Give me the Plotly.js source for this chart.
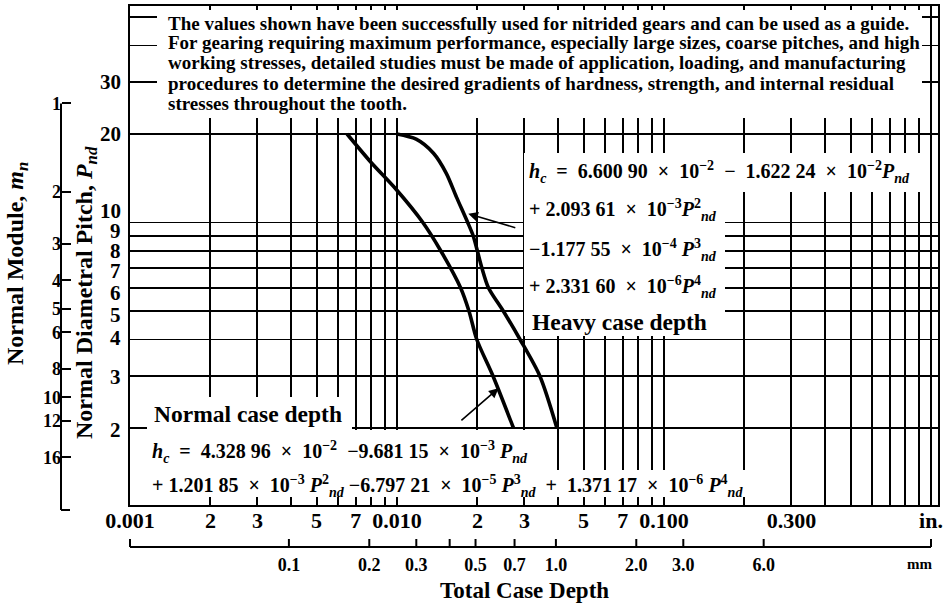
<!DOCTYPE html>
<html>
<head>
<meta charset="utf-8">
<script src="https://cdn.plot.ly/plotly-3.0.1.min.js"></script>
<style>html,body{margin:0;padding:0;background:#fff;}#chart{width:944px;height:605px;}</style>
</head>
<body>
<div id="chart"></div>
<script>
// ---------- data ----------
const depthGrid = [0.001,0.002,0.003,0.004,0.005,0.006,0.007,0.008,0.009,
                   0.01,0.02,0.03,0.04,0.05,0.06,0.07,0.08,0.09,
                   0.1,0.2,0.3,0.4,0.5,0.6,0.7,0.8,0.9,1.0];
const depthLabels = ['0.001','2','3','','5','','7','','',
                     '0.010','2','3','','5','','7','','',
                     '0.100','','0.300','','','','','','','in.'];
const pitchGrid = [2,3,4,5,6,7,8,9,10,20,30,40,50];
const pitchLabels = ['2','3','4','5','6','7','8','9','10','20','30','',''];
const moduleTicks = [1,2,3,4,5,6,8,10,12,16];
const moduleLabels = ['1','2','3','4','5','6','8','10','12','16'];
const mmTicks = [0.0254,0.1,0.2,0.3,0.4,0.5,0.7,1.0,2.0,3.0,6.0,25.4];
const mmLabels = ['','0.1','0.2','0.3','','0.5','0.7','1.0','2.0','3.0','6.0',''];

// curves: total case depth (in.) versus normal diametral pitch
const normalPitch = [20, 16, 13, 10, 8, 6, 5, 4, 3, 2];
const normalDepth = [0.0065, 0.0080, 0.0099, 0.0125, 0.0146, 0.0173, 0.0186, 0.0199, 0.0229, 0.0273];
const heavyPitch = [20, 19.2, 17.2, 14.7, 12.2, 10, 9, 8, 7, 6, 5, 4, 3, 2];
const heavyDepth = [0.0100, 0.0118, 0.0137, 0.0153, 0.0167, 0.0184, 0.0193, 0.0200, 0.0208, 0.0220, 0.0250, 0.0289, 0.0343, 0.0397];

// ---------- layout helpers ----------
const W = 944, H = 605, ML = 0, MR = 6, MT = 6, MB = 0;
const PW = W - ML - MR, PH = H - MT - MB;
const px = x => (x - ML) / PW;            // pixel x -> paper x
const py = y => (H - MB - y) / PH;        // pixel y -> paper y
const X0 = 130, X1 = 938, Y0 = 6, Y1 = 505;
const xDec = 267, yDec = 294;
const xr = [-3, -3 + (X1 - X0) / xDec];
const yTopLog = Math.log10(20) + (134 - Y0) / yDec;
const yr = [yTopLog - (Y1 - Y0) / yDec, yTopLog];
const L25 = Math.log10(25.4);
const xpix = v => X0 + (Math.log10(v) - xr[0]) * xDec;
const ypixP = p => Y0 + (yr[1] - Math.log10(p)) * yDec;
// small vertical nudges of the printed pitch labels (pixels)
const pitchLabelNudge = [2, 1, -1, 4, 5, 3, 0, -5, -12, 0, 0, 0, 0];

const FONT = 'Liberation Serif, Times New Roman, serif';
const b = s => '<b>' + s + '</b>';
const S = '\u00A0';

const traces = [
  {x: normalDepth, y: normalPitch, type: 'scatter', mode: 'lines',
   line: {color: '#000', width: 3.6, shape: 'spline', smoothing: 0.8}, hoverinfo: 'skip', showlegend: false},
  {x: heavyDepth, y: heavyPitch, type: 'scatter', mode: 'lines',
   line: {color: '#000', width: 3.6, shape: 'spline', smoothing: 0.8}, hoverinfo: 'skip', showlegend: false},
  {x: [], y: [], xaxis: 'x2', yaxis: 'y2', type: 'scatter', mode: 'lines', hoverinfo: 'skip', showlegend: false}
];

// white areas where the printed text interrupts the grid (pixel boxes)
const boxes = [
  [157, 922, 10, 118],
  [524, 925, 153, 192],
  [524, 725, 192, 336],
  [147, 352, 397, 470],
  [352, 548, 430, 470],
  [147, 765, 470, 497]
];
const shapes = boxes.map(bx => ({type: 'rect', xref: 'paper', yref: 'paper', layer: 'above',
  x0: px(bx[0]), x1: px(bx[1]), y0: py(bx[3]), y1: py(bx[2]), line: {width: 0}, fillcolor: '#fff'}));
// mm scale line with its upward ticks
shapes.push({type: 'line', xref: 'paper', yref: 'paper', x0: px(xpix(0.001)), x1: px(xpix(1)),
  y0: py(547), y1: py(547), line: {color: '#000', width: 2}});
mmTicks.forEach(m => shapes.push({type: 'line', xref: 'paper', yref: 'paper',
  x0: px(xpix(m / 25.4)), x1: px(xpix(m / 25.4)), y0: py(547), y1: py(539), line: {color: '#000', width: 2}}));
// module scale line and end hook
const yM1 = ypixP(25.4 / moduleTicks[0]);
shapes.push({type: 'line', xref: 'paper', yref: 'paper', x0: px(61), x1: px(61),
  y0: py(yM1), y1: py(510), line: {color: '#000', width: 2}});
shapes.push({type: 'line', xref: 'paper', yref: 'paper', x0: px(61), x1: px(70),
  y0: py(510), y1: py(510), line: {color: '#000', width: 2}});

const ann = [];
function txt(text, x, y, size, opts) {
  ann.push(Object.assign({text: b(text), xref: 'paper', yref: 'paper', x: px(x), y: py(y),
    xanchor: 'left', yanchor: 'middle', showarrow: false,
    font: {family: FONT, size: size, color: '#000'}}, opts || {}));
}
const note = [
  'The values shown have been successfully used for nitrided gears and can be used as a guide.',
  'For gearing requiring maximum performance, especially large sizes, coarse pitches, and high',
  'working stresses, detailed studies must be made of application, loading, and manufacturing',
  'procedures to determine the desired gradients of hardness, strength, and internal residual',
  'stresses throughout the tooth.'
];
const noteY = [23, 43, 63, 83, 103];
note.forEach((t, i) => txt(t, 166, noteY[i], 19));

const Pnd = '<i>P</i><sub><i>nd</i></sub>';
const PndE = e => '<i>P</i><sup>' + e + '</sup><sub><i>nd</i></sub>';
const hc = '<i>h</i><sub><i>c</i></sub>';
const op = o => S + S + o + S + S;
txt(hc + op('=') + '6.600 90' + op('×') + '10<sup>−2</sup>' + op('−') + '1.622 24' + op('×') + '10<sup>−2</sup>' + Pnd, 527, 172, 20);
txt('+' + S + '2.093 61' + op('×') + '10<sup>−3</sup>' + PndE(2), 527, 210, 20);
txt('−1.177 55' + op('×') + '10<sup>−4</sup>' + S + PndE(3), 527, 250, 20);
txt('+' + S + '2.331 60' + op('×') + '10<sup>−6</sup>' + PndE(4), 527, 287, 20);
txt('Heavy case depth', 530, 322, 23.5);
txt('Normal case depth', 152, 414, 23.5);
txt(hc + op('=') + '4.328 96' + op('×') + '10<sup>−2</sup>' + S + S + '−9.681 15' + op('×') + '10<sup>−3</sup>' + S + Pnd, 150, 452, 20);
txt('+' + S + '1.201 85' + op('×') + '10<sup>−3</sup>' + S + PndE(2) + S + '−6.797 21' + op('×') + '10<sup>−5</sup>' + S + PndE(3) +
    op('+') + '1.371 17' + op('×') + '10<sup>−6</sup>' + S + PndE(4), 150, 486, 20);

txt('Normal Diametral Pitch, <i>P</i><sub><i>nd</i></sub>', 86, 293, 24, {xanchor: 'center', textangle: -90});
txt('Normal Module, <i>m</i><sub><i>n</i></sub>', 17, 264, 24, {xanchor: 'center', textangle: -90});
txt('Total Case Depth', 524, 590, 23, {xanchor: 'center'});
txt('mm', 919, 564, 15, {xanchor: 'center'});

// pitch tick labels (right-aligned beside the frame)
pitchGrid.forEach((p, i) => {
  if (!pitchLabels[i]) return;
  txt(pitchLabels[i], 123, ypixP(p) + pitchLabelNudge[i], 21, {xanchor: 'right'});
});

// arrows
ann.push({text: '', xref: 'x', yref: 'y', axref: 'x', ayref: 'y',
  x: Math.log10(0.0185), y: Math.log10(10.7), ax: Math.log10(0.0281), ay: Math.log10(9.57),
  showarrow: true, arrowhead: 2, arrowsize: 1.2, arrowwidth: 1.6, arrowcolor: '#000'});
ann.push({text: '', xref: 'x', yref: 'y', axref: 'x', ayref: 'y',
  x: Math.log10(0.0240), y: Math.log10(2.73), ax: Math.log10(0.0172), ay: Math.log10(2.1),
  showarrow: true, arrowhead: 2, arrowsize: 1.2, arrowwidth: 1.6, arrowcolor: '#000'});

const layout = {
  width: W, height: H, margin: {l: ML, r: MR, t: MT, b: MB},
  paper_bgcolor: '#fff', plot_bgcolor: '#fff', showlegend: false,
  font: {family: FONT, color: '#000'},
  xaxis: {type: 'log', range: xr, domain: [px(X0), px(X1)], tickmode: 'array',
    tickvals: depthGrid, ticktext: depthLabels.map(s => s ? b(s) : ''),
    tickfont: {family: FONT, size: 22, color: '#000'}, ticks: '', ticklabelstandoff: -6, showgrid: true,
    gridcolor: '#000', gridwidth: 1.8, showline: true, mirror: true, linecolor: '#000', linewidth: 2.2,
    zeroline: false, fixedrange: true},
  yaxis: {type: 'log', range: yr, domain: [py(Y1), py(Y0)], tickmode: 'array',
    tickvals: pitchGrid, showticklabels: false, ticks: '', showgrid: true,
    gridcolor: '#000', gridwidth: 1.8, showline: true, mirror: true, linecolor: '#000', linewidth: 2.2,
    zeroline: false, fixedrange: true},
  xaxis2: {type: 'log', overlaying: 'x', anchor: 'free', position: py(547), side: 'bottom',
    range: [xr[0] + L25, xr[1] + L25], tickmode: 'array', tickvals: mmTicks,
    ticktext: mmLabels.map(s => s ? b(s) : ''), ticks: '', ticklabelstandoff: 5,
    tickfont: {family: FONT, size: 18, color: '#000'}, showgrid: false, showline: false, zeroline: false},
  yaxis2: {type: 'log', overlaying: 'y', anchor: 'free', position: px(61), side: 'left',
    range: [L25 - yr[0], L25 - yr[1]], tickmode: 'array', tickvals: moduleTicks,
    ticktext: moduleLabels.map(s => b(s)), ticks: 'inside', ticklen: 9, tickwidth: 2, tickcolor: '#000',
    tickfont: {family: FONT, size: 18, color: '#000'}, showgrid: false, showline: false, zeroline: false},
  shapes: shapes,
  annotations: ann
};
Plotly.newPlot('chart', traces, layout, {staticPlot: true, displayModeBar: false});
</script>
</body>
</html>
